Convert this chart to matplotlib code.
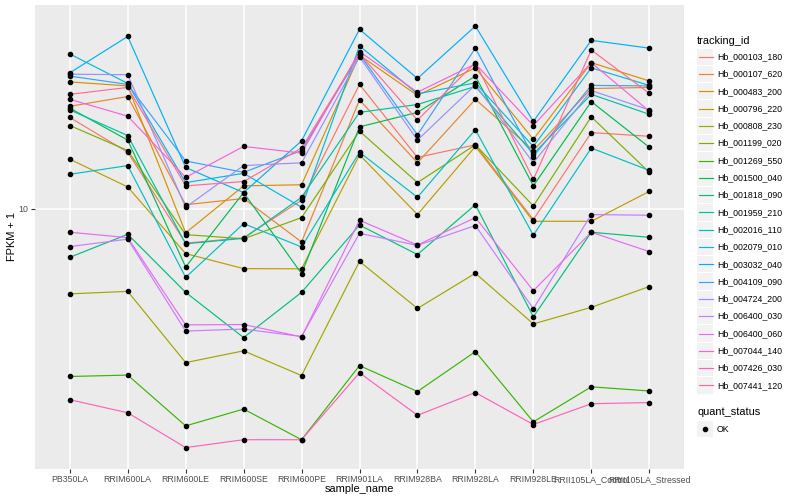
import numpy as np
import matplotlib
matplotlib.use("Agg")
import matplotlib.pyplot as plt
from matplotlib.lines import Line2D
from matplotlib.patches import Rectangle
from matplotlib.ticker import NullLocator

plt.rcParams['font.family'] = ['Liberation Sans', 'DejaVu Sans']

# --- data (FPKM + 1) ---
samples = ["PB350LA", "RRIM600LA", "RRIM600LE", "RRIM600SE", "RRIM600PE",
           "RRIM901LA", "RRIM928BA", "RRIM928LA", "RRIM928LE",
           "RRII105LA_Control", "RRII105LA_Stressed"]

tracking_ids = ["Hb_000103_180", "Hb_000107_620", "Hb_000483_200", "Hb_000796_220",
                "Hb_000808_230", "Hb_001199_020", "Hb_001269_550", "Hb_001500_040",
                "Hb_001818_090", "Hb_001959_210", "Hb_002016_110", "Hb_002079_010",
                "Hb_003032_040", "Hb_004109_090", "Hb_004724_200", "Hb_006400_030",
                "Hb_006400_060", "Hb_007044_140", "Hb_007426_030", "Hb_007441_120"]

hb_000103_180 = [20.1, 15.4, 7.67, 7.99, 10.66, 25.9, 14.8, 16.3, 9.19, 17.9, 17.4]
hb_000107_620 = [21.9, 23.6, 10.3, 10.8, 7.74, 23.0, 14.2, 23.1, 15.6, 25.1, 25.3]
hb_000483_200 = [26.4, 25.6, 8.30, 11.9, 12.0, 32.4, 23.8, 29.4, 17.0, 30.6, 26.6]
hb_000796_220 = [14.6, 11.8, 7.08, 6.31, 6.30, 15.1, 9.55, 16.1, 9.07, 9.07, 11.4]
hb_000808_230 = [5.20, 5.30, 3.07, 3.36, 2.78, 6.67, 4.65, 6.09, 4.13, 4.69, 5.50]
hb_001199_020 = [18.9, 15.6, 8.19, 7.93, 9.33, 18.1, 12.2, 16.3, 10.2, 20.2, 13.2]
hb_001269_550 = [2.76, 2.79, 1.89, 2.15, 1.70, 3.00, 2.46, 3.34, 1.95, 2.55, 2.47]
hb_001500_040 = [21.6, 16.9, 6.39, 11.3, 6.07, 18.7, 20.9, 27.6, 11.9, 22.7, 16.0]
hb_001818_090 = [6.88, 8.21, 5.26, 3.72, 5.26, 8.81, 7.03, 10.3, 4.36, 8.34, 8.02]
hb_001959_210 = [21.3, 17.5, 7.63, 7.96, 10.9, 20.9, 22.2, 25.5, 15.2, 24.0, 20.6]
hb_002016_110 = [13.0, 13.9, 5.90, 8.91, 7.45, 15.4, 10.9, 18.3, 8.15, 15.9, 13.4]
hb_002079_010 = [32.7, 26.1, 12.2, 13.1, 10.1, 34.8, 24.1, 26.2, 16.1, 29.4, 25.7]
hb_003032_040 = [28.3, 37.4, 13.7, 11.3, 16.8, 39.5, 27.1, 40.5, 19.5, 36.3, 34.2]
hb_004109_090 = [27.6, 25.9, 14.4, 13.2, 15.6, 32.6, 17.6, 34.2, 14.9, 25.7, 25.6]
hb_004724_200 = [28.0, 27.9, 10.1, 13.9, 14.2, 32.0, 16.9, 25.8, 14.2, 24.7, 21.3]
hb_006400_030 = [7.47, 7.91, 3.91, 3.97, 3.75, 8.27, 7.54, 8.78, 4.64, 9.55, 9.50]
hb_006400_060 = [8.34, 8.00, 4.10, 4.11, 3.74, 9.14, 7.56, 9.33, 5.33, 8.34, 7.19]
hb_007044_140 = [23.1, 20.3, 12.7, 16.1, 15.3, 33.3, 24.4, 30.3, 18.9, 30.6, 21.1]
hb_007426_030 = [2.31, 2.09, 1.60, 1.70, 1.70, 2.84, 2.05, 2.44, 1.91, 2.24, 2.26]
hb_007441_120 = [24.0, 25.3, 11.9, 12.3, 15.9, 32.8, 19.7, 30.6, 12.5, 33.7, 24.2]

fpkm = [hb_000103_180, hb_000107_620, hb_000483_200, hb_000796_220, hb_000808_230,
        hb_001199_020, hb_001269_550, hb_001500_040, hb_001818_090, hb_001959_210,
        hb_002016_110, hb_002079_010, hb_003032_040, hb_004109_090, hb_004724_200,
        hb_006400_030, hb_006400_060, hb_007044_140, hb_007426_030, hb_007441_120]

# ggplot2 default hue palette for 20 levels
colors = ["#F8766D", "#EA8331", "#D89000", "#C09B00", "#A3A500", "#7CAE00", "#39B600",
          "#00BB4E", "#00BF7D", "#00C1A3", "#00BFC4", "#00BAE0", "#00B0F6", "#35A2FF",
          "#9590FF", "#C77CFF", "#E76BF3", "#FA62DB", "#FF62BC", "#FF6C91"]

# --- figure ---
W, H = 800, 500
fig = plt.figure(figsize=(W / 100, H / 100), dpi=100)
ax = fig.add_axes([35 / W, 1 - 468.7 / H, 649 / W, 463.7 / H])
ax.set_facecolor("#EBEBEB")
for s in ax.spines.values():
    s.set_visible(False)

x = np.arange(len(samples))
for vals, c in zip(fpkm, colors):
    ax.plot(x, vals, color=c, lw=0.85, zorder=2)
for vals in fpkm:
    ax.plot(x, vals, ls="none", marker="o", ms=3.0, color="black", zorder=3)

ax.set_yscale("log")
ax.set_xlim(-0.6, len(samples) - 0.4)
ax.margins(y=0.05)
ax.set_yticks([10])
ax.set_yticklabels(["10"])
ax.yaxis.set_minor_locator(NullLocator())
ax.set_xticks(x)
ax.set_xticklabels(samples)
ax.grid(True, color="white", linewidth=1.1)
ax.set_axisbelow(True)
ax.tick_params(axis="both", labelsize=6.3, labelcolor="#4D4D4D", color="#333333",
               length=2.8, width=0.8, pad=2)

ax.set_xlabel("sample_name", fontsize=7.9)
ax.xaxis.set_label_coords(0.5, (468.7 - 488.5) / 463.7)
ax.xaxis.label.set_va("center")
ax.set_ylabel("FPKM + 1", fontsize=7.9)
ax.yaxis.set_label_coords((12 - 35) / 649, 0.5)
ax.yaxis.label.set_va("center")

# --- legends (ggplot style, drawn in figure pixels) ---
def fx(px):
    return px / W

def fy(py):
    return 1 - py / H

key = 17.3
fig.text(fx(697), fy(40.7), "tracking_id", fontsize=7.9, va="center", ha="left")
for i, (name, c) in enumerate(zip(tracking_ids, colors)):
    yc = 56.7 + i * key
    fig.patches.append(Rectangle((fx(697), fy(yc + key / 2 - 0.5)), fx(key - 1), (key - 1) / H,
                                 transform=fig.transFigure, facecolor="#F2F2F2",
                                 edgecolor="none"))
    fig.lines.append(Line2D([fx(698.5), fx(712.5)], [fy(yc), fy(yc)], color=c, lw=0.85,
                            transform=fig.transFigure))
    fig.text(fx(717), fy(yc), name, fontsize=6.3, va="center", ha="left")

fig.text(fx(697), fy(412.3), "quant_status", fontsize=7.9, va="center", ha="left")
yc = 429
fig.patches.append(Rectangle((fx(697), fy(yc + key / 2 - 0.5)), fx(key - 1), (key - 1) / H,
                             transform=fig.transFigure, facecolor="#F2F2F2", edgecolor="none"))
fig.lines.append(Line2D([fx(705.2)], [fy(yc)], ls="none", marker="o", ms=3.0, color="black",
                        transform=fig.transFigure))
fig.text(fx(717), fy(yc), "OK", fontsize=6.3, va="center", ha="left")

fig.savefig("out.png", dpi=100)
